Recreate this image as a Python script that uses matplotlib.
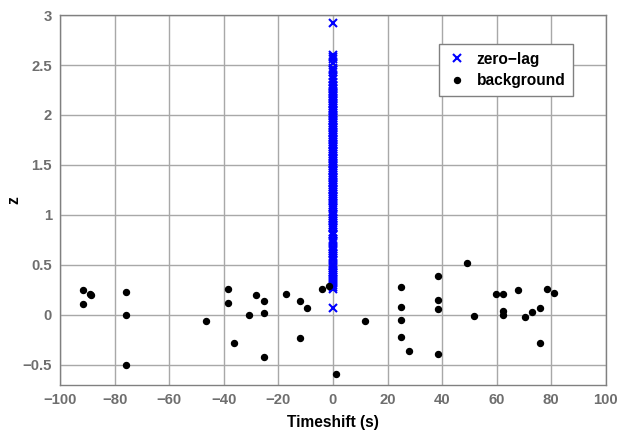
#!/usr/bin/env python3
"""
Zero-lag vs background triggers: z value against timeshift.
"""

import matplotlib
matplotlib.use('Agg')
import matplotlib.pyplot as plt

plt.rcParams['font.family'] = ['Liberation Sans', 'DejaVu Sans']

# background triggers (timeshift in s, z)
bg_shift = [-91.5, -89.0, -88.6, -91.5, -76.0, -76.0, -76.0, -46.6, -38.6, -38.6,
            -36.2, -30.8, -28.1, -25.4, -25.4, -25.4, -17.4, -12.2, -9.6, -12.2,
            -4.1, -1.4, 1.2, 11.8, 25.1, 25.1, 25.1, 25.1, 27.8, 38.4,
            38.4, 38.4, 38.4, 49.0, 51.7, 59.8, 62.5, 62.5, 62.5, 67.8,
            70.5, 73.1, 75.8, 75.8, 78.4, 81.1]
bg_z = [0.245, 0.21, 0.195, 0.11, 0.23, -0.005, -0.505, -0.065, 0.255, 0.115,
        -0.285, -0.005, 0.195, 0.14, 0.02, -0.42, 0.21, 0.135, 0.065, -0.23,
        0.26, 0.29, -0.595, -0.065, 0.275, 0.08, -0.055, -0.22, -0.36, 0.39,
        0.15, 0.06, -0.395, 0.52, -0.01, 0.205, 0.205, 0.035, -0.005, 0.245,
        -0.025, 0.025, 0.07, -0.28, 0.26, 0.215]

# zero-lag triggers (all at timeshift 0)
zl_z = [2.92, 2.60, 2.58, 2.56, 2.52, 2.47, 2.45, 2.43, 2.39, 2.36, 2.33,
        2.30, 2.29, 2.27, 2.26, 2.24, 2.22, 2.21, 2.19, 2.17, 2.16, 2.14,
        2.12, 2.11, 2.09, 2.07, 2.05, 2.04, 2.02, 2.00, 1.99, 1.97, 1.95,
        1.94, 1.92, 1.90, 1.88, 1.87, 1.85, 1.83, 1.82, 1.80, 1.78, 1.76,
        1.75, 1.73, 1.71, 1.70, 1.68, 1.66, 1.64, 1.63, 1.61, 1.59, 1.57,
        1.56, 1.54, 1.52, 1.51, 1.49, 1.47, 1.45, 1.44, 1.42, 1.40, 1.38,
        1.37, 1.35, 1.33, 1.32, 1.30, 1.28, 1.26, 1.25, 1.23, 1.21, 1.19,
        1.18, 1.16, 1.14, 1.12, 1.10, 1.08, 1.07, 1.03, 1.01, 0.99, 0.97,
        0.96, 0.94, 0.92, 0.90, 0.88, 0.87, 0.83, 0.81, 0.80, 0.76, 0.74,
        0.72, 0.68, 0.66, 0.64, 0.62, 0.61, 0.59, 0.57, 0.55, 0.51, 0.49,
        0.47, 0.45, 0.43, 0.42, 0.40, 0.38, 0.36, 0.34, 0.32, 0.30, 0.28,
        0.26, 0.07]
zl_shift = [0.0] * len(zl_z)

x_ticks = [-100, -80, -60, -40, -20, 0, 20, 40, 60, 80, 100]
y_ticks = [-0.5, 0, 0.5, 1, 1.5, 2, 2.5, 3]
y_ticklabels = ['-0.5', '0', '0.5', '1', '1.5', '2', '2.5', '3']

fig = plt.figure(figsize=(6.24, 4.30), dpi=100)
ax = fig.add_axes([0.0966, 0.1053, 0.8741, 0.8597])

ax.plot(zl_shift, zl_z, 'x', color='#0000ff', markersize=5.3,
        markeredgewidth=1.5, label='zero\u2212lag', zorder=3)
ax.plot(bg_shift, bg_z, 'o', color='black', markersize=4.3,
        label='background', zorder=3)

ax.set_xlim(-100, 100)
ax.set_ylim(-0.7, 3)
ax.set_xticks(x_ticks)
ax.set_xticklabels(['\u2212' + str(-t) if t < 0 else str(t) for t in x_ticks])
ax.set_yticks(y_ticks)
ax.set_yticklabels([s.replace('-', '\u2212') for s in y_ticklabels])

ax.grid(True, color='#a8a8a8', linewidth=1.0, linestyle='-')
ax.set_axisbelow(True)
for sp in ax.spines.values():
    sp.set_color('#808080')
    sp.set_linewidth(1.0)
ax.tick_params(direction='in', length=0, colors='#6e6e6e', labelsize=10.7, pad=6)
for lab in ax.get_xticklabels() + ax.get_yticklabels():
    lab.set_fontweight('bold')

ax.set_xlabel('Timeshift (s)', fontsize=11.2, fontweight='bold')
ax.xaxis.set_label_coords(0.5, -0.103)
ax.xaxis.label.set_va('center')
ax.set_ylabel('z', fontsize=11.2, fontweight='bold')
ax.yaxis.set_label_coords(-0.0858, 0.5)
ax.yaxis.label.set_va('center')

leg = ax.legend(loc='upper right', bbox_to_anchor=(0.9406, 0.9216),
                borderaxespad=0, fancybox=False, framealpha=1,
                edgecolor='#808080', prop={'weight': 'bold', 'size': 11.2},
                handlelength=1.2, handletextpad=0.7, borderpad=0.5,
                labelspacing=0.4)
leg.get_frame().set_linewidth(1.0)

fig.savefig('out.png', dpi=100)
